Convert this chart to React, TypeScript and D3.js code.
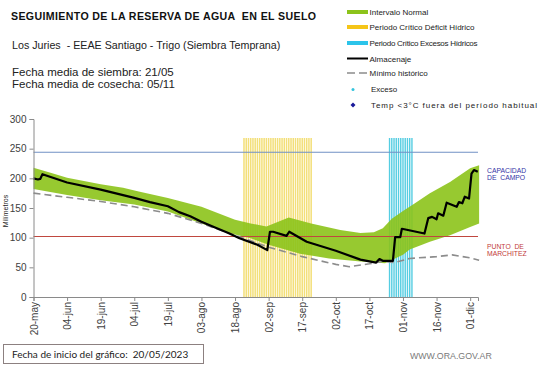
import React, { useRef, useEffect } from "react";
import * as d3 from "d3";

// dias contados desde el 20/05/2023
const xTickLabels = ["20-may", "04-jun", "19-jun", "04-jul", "19-jul", "03-ago", "18-ago", "02-sep", "17-sep", "02-oct", "17-oct", "01-nov", "16-nov", "01-dic"];
const yTickValues = [0, 50, 100, 150, 200, 250, 300];

const capacidadCampo = 244;
const puntoMarchitez = 102;

const deficitPeriod = [94, 124];
const excesoPeriod = [159, 169];

const bandUpperDays = [0, 8, 15, 30, 40, 47, 60, 75, 90, 97, 104, 114, 124, 137, 146, 152, 156, 160, 165, 170, 177, 186, 195, 199];
const bandUpperValues = [218, 209, 201, 190, 184, 178, 167, 152, 130, 124, 119, 134, 124, 113, 108, 109, 116, 132, 145, 157, 175, 194, 217, 222];

const bandLowerDays = [0, 15, 30, 45, 60, 75, 88, 97, 105, 119, 132, 146, 157, 161, 165, 168, 177, 186, 195, 199];
const bandLowerValues = [182, 172, 163, 156, 144, 124, 107, 99, 88, 73, 65, 60, 57, 64, 71, 80, 93, 104, 118, 124];

const minimoDays = [0, 15, 30, 45, 60, 75, 90, 105, 120, 135, 141, 150, 156, 161, 168, 180, 187, 195, 199];
const minimoValues = [175, 168, 161, 152, 141, 124, 104, 84, 68, 55, 51, 56, 60, 58, 65, 68, 71, 66, 62];

const almacenajeDays = [0, 2, 3, 4, 7, 15, 30, 45, 52, 60, 65, 70, 75, 80, 87, 92, 100, 104.4, 105.6, 107, 113, 114.2, 122, 135, 146, 150, 153, 154.5, 156, 160.5, 161.5, 163.8, 164.5, 174.6, 176.3, 178, 180, 180.7, 183, 184.5, 189, 190, 191.5, 192.6, 194.5, 195.6, 196.7, 198.4];
const almacenajeValues = [200, 198, 199, 207, 203, 193, 181, 167, 160, 153, 143, 136, 127, 119, 108, 99, 88, 79, 110, 110, 103, 110, 93, 78, 63, 60, 58, 64, 61, 61, 101, 101, 115, 107, 133, 135, 131, 141, 137, 159, 152, 160, 158, 169, 166, 208, 214, 211];

const legendLabels = ["Intervalo Normal", "Periodo Crítico Déficit Hídrico", "Periodo Crítico Excesos Hídricos", "Almacenaje", "Mínimo histórico", "Exceso", "Temp <3°C fuera del período habitual"];

const font = "'Liberation Sans', Arial, sans-serif";

function App() {
  const chartRef = useRef<SVGGElement>(null);

  useEffect(() => {
    const g = d3.select(chartRef.current);
    g.selectAll("*").remove();

    const x = d3.scaleLinear().domain([0, 198.5]).range([33.5, 478]);
    const y = d3.scaleLinear().domain([0, 300]).range([297, 119]);

    // franjas de periodos criticos
    const stripeTop = y(268);
    g.append("g")
      .selectAll("line")
      .data(d3.range(deficitPeriod[0], deficitPeriod[1] + 1))
      .join("line")
      .attr("x1", d => x(d)).attr("x2", d => x(d))
      .attr("y1", stripeTop).attr("y2", y(0))
      .attr("stroke", "#f3df78")
      .attr("stroke-width", 1.5);

    g.append("g")
      .selectAll("line")
      .data(d3.range(excesoPeriod[0], excesoPeriod[1] + 1))
      .join("line")
      .attr("x1", d => x(d)).attr("x2", d => x(d))
      .attr("y1", stripeTop).attr("y2", y(0))
      .attr("stroke", "#55cde2")
      .attr("stroke-width", 1.4);

    // intervalo normal
    const upper = bandUpperDays.map((d, i) => [x(d), y(bandUpperValues[i])] as [number, number]);
    const lower = bandLowerDays.map((d, i) => [x(d), y(bandLowerValues[i])] as [number, number]).reverse();
    g.append("path")
      .attr("d", d3.line()([...upper, ...lower]) + "Z")
      .attr("fill", "#8cc31a")
      .attr("opacity", 0.9);

    // capacidad de campo / punto de marchitez
    g.append("line")
      .attr("x1", x(0)).attr("x2", 478)
      .attr("y1", y(capacidadCampo)).attr("y2", y(capacidadCampo))
      .attr("stroke", "#7090c4").attr("stroke-width", 1.2);
    g.append("line")
      .attr("x1", x(0)).attr("x2", 478)
      .attr("y1", y(puntoMarchitez)).attr("y2", y(puntoMarchitez))
      .attr("stroke", "#c0473f").attr("stroke-width", 1.2);

    g.append("path")
      .datum(minimoDays)
      .attr("d", d3.line<number>().x(d => x(d)).y((d, i) => y(minimoValues[i])))
      .attr("fill", "none")
      .attr("stroke", "#8c8c8c")
      .attr("stroke-width", 1.6)
      .attr("stroke-dasharray", "7,4");

    g.append("path")
      .datum(almacenajeDays)
      .attr("d", d3.line<number>().x(d => x(d)).y((d, i) => y(almacenajeValues[i])))
      .attr("fill", "none")
      .attr("stroke", "#000")
      .attr("stroke-width", 2.2)
      .attr("stroke-linejoin", "round");

    // ejes
    const yAxis = g.append("g")
      .attr("transform", `translate(${x(0)},0)`)
      .call(d3.axisLeft(y).tickValues(yTickValues).tickSize(4).tickPadding(3));
    yAxis.selectAll("text").attr("font-size", 10).attr("font-family", font).attr("fill", "#404040");

    const xAxis = g.append("g")
      .attr("transform", `translate(0,${y(0)})`)
      .call(
        d3.axisBottom(x)
          .tickValues(xTickLabels.map((_, i) => i * 15))
          .tickFormat((_, i) => xTickLabels[i])
          .tickSize(4)
      );
    xAxis.selectAll("text")
      .attr("transform", "rotate(-90)")
      .attr("text-anchor", "end")
      .attr("x", -5)
      .attr("y", 0)
      .attr("dy", "0.35em")
      .attr("font-size", 10)
      .attr("font-family", font)
      .attr("fill", "#404040");

    g.selectAll(".domain, .tick line").attr("stroke", "#8a8a8a");
  }, []);

  const legendY = [15, 30, 46, 62, 76, 92, 108];
  // solo se estiran los textos largos, como en el original
  const legendW: (number | undefined)[] = [undefined, 105, 108, undefined, undefined, undefined, 166];

  return (
    <svg width={541} height={368} style={{ position: "absolute", left: 0, top: 0 }} fontFamily={font}>
      <rect width={541} height={368} fill="#fff" />
      <text x={11} y={20} fontSize={10.6} fontWeight="bold" fill="#111" textLength={305} lengthAdjust="spacing" style={{ whiteSpace: "pre" }}>SEGUIMIENTO DE LA RESERVA DE AGUA  EN EL SUELO</text>
      <text x={12} y={49} fontSize={10.7} fill="#222" style={{ whiteSpace: "pre" }}>Los Juries  - EEAE Santiago - Trigo (Siembra Temprana)</text>
      <text x={12} y={76} fontSize={11.5} fill="#222">Fecha media de siembra: 21/05</text>
      <text x={12} y={87.5} fontSize={11.5} fill="#222">Fecha media de cosecha: 05/11</text>

      {/* leyenda */}
      <g fontSize={8} fill="#222">
        <rect x={347} y={10} width={21} height={4} fill="#8cc31a" />
        <rect x={347} y={25} width={21} height={4} fill="#f5c518" />
        <rect x={347} y={41} width={21} height={4} fill="#2cc4ea" />
        <line x1={347} x2={368} y1={58.5} y2={58.5} stroke="#000" strokeWidth={2} />
        <line x1={347} x2={368} y1={73} y2={73} stroke="#8c8c8c" strokeWidth={1.6} strokeDasharray="8,4" />
        <circle cx={353} cy={89.5} r={1.5} fill="#33c4dd" />
        <path d="M353,102.5 L355.5,105 L353,107.5 L350.5,105 Z" fill="#1a1a9a" />
        {legendLabels.map((t, i) => (
          <text key={t} x={i >= 5 ? 371 : 369.5} y={legendY[i]} textLength={legendW[i]} lengthAdjust={legendW[i] ? "spacing" : undefined}>{t}</text>
        ))}
      </g>

      <g ref={chartRef} />

      <text x={8} y={211} fontSize={7} fill="#222" textAnchor="middle" transform="rotate(-90,8,211)">Milímetros</text>

      <g fontSize={6.8} fill="#3434a6">
        <text x={487} y={173}>CAPACIDAD</text>
        <text x={487} y={179.5} style={{ whiteSpace: "pre" }}>DE  CAMPO</text>
      </g>
      <g fontSize={6.8} fill="#c23a3a">
        <text x={487} y={249} style={{ whiteSpace: "pre" }}>PUNTO  DE</text>
        <text x={487} y={255.5}>MARCHITEZ</text>
      </g>

      <rect x={3.5} y={344.5} width={200} height={19} fill="none" stroke="#8c8080" />
      <text x={12} y={358} fontSize={10} fontFamily="Lato, 'Open Sans', sans-serif" fill="#222" style={{ whiteSpace: "pre" }}>Fecha de inicio del gráfico:  20/05/2023</text>
      <text x={410} y={358.5} fontSize={8.8} fill="#7a7a7a">WWW.ORA.GOV.AR</text>
    </svg>
  );
}

export default App;
